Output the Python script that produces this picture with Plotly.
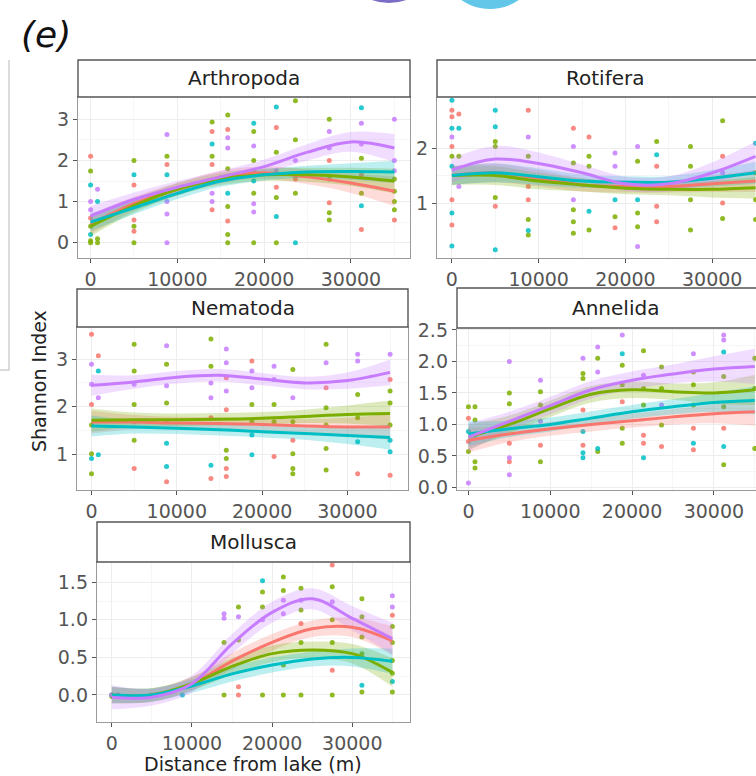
import plotly.graph_objects as go

W, H = 756, 776

# ---------------- data ----------------
SITES = [0, 800, 5000, 8800, 14000, 15800, 18800, 21400, 23600, 27500, 31200, 35000]
GRID_X = [0, 5000, 10000, 15000, 20000, 25000, 30000, 35000]
GROUP_COLORS = ["#F8766D", "#7CAE00", "#00BFC4", "#C77CFF"]
X_TICKS = [0, 10000, 20000, 30000]

# fitted (loess) curves per group: red, green, teal, purple
ARTH_FIT = [[0.45, 0.95, 1.30, 1.60, 1.70, 1.60, 1.45, 1.25],
            [0.40, 0.90, 1.30, 1.55, 1.65, 1.65, 1.60, 1.50],
            [0.50, 0.85, 1.20, 1.50, 1.65, 1.72, 1.73, 1.72],
            [0.65, 1.05, 1.35, 1.60, 1.85, 2.20, 2.45, 2.30]]
ARTH_SE = [[0.24, 0.17, 0.15, 0.15, 0.15, 0.18, 0.24, 0.36],
           [0.24, 0.17, 0.15, 0.15, 0.15, 0.17, 0.22, 0.30],
           [0.22, 0.16, 0.14, 0.14, 0.14, 0.15, 0.20, 0.27],
           [0.24, 0.17, 0.15, 0.15, 0.17, 0.20, 0.24, 0.34]]

ROT_FIT = [[1.50, 1.55, 1.45, 1.33, 1.30, 1.30, 1.35, 1.40],
           [1.50, 1.50, 1.40, 1.33, 1.27, 1.25, 1.25, 1.28],
           [1.50, 1.55, 1.48, 1.40, 1.38, 1.38, 1.45, 1.55],
           [1.60, 1.80, 1.72, 1.55, 1.35, 1.35, 1.55, 1.85]]
ROT_SE = [[0.17, 0.17, 0.15, 0.12, 0.11, 0.11, 0.15, 0.20],
          [0.17, 0.17, 0.15, 0.12, 0.11, 0.11, 0.15, 0.20],
          [0.17, 0.17, 0.15, 0.12, 0.11, 0.11, 0.15, 0.20],
          [0.22, 0.24, 0.20, 0.15, 0.13, 0.14, 0.19, 0.27]]

NEM_FIT = [[1.68, 1.68, 1.66, 1.65, 1.63, 1.60, 1.58, 1.58],
           [1.72, 1.73, 1.73, 1.74, 1.76, 1.80, 1.84, 1.86],
           [1.60, 1.58, 1.55, 1.52, 1.48, 1.44, 1.40, 1.36],
           [2.45, 2.52, 2.62, 2.66, 2.58, 2.50, 2.55, 2.72]]
NEM_SE = [[0.24, 0.15, 0.13, 0.13, 0.13, 0.14, 0.19, 0.27],
          [0.24, 0.15, 0.13, 0.13, 0.13, 0.14, 0.19, 0.27],
          [0.22, 0.14, 0.12, 0.12, 0.12, 0.13, 0.18, 0.26],
          [0.22, 0.14, 0.13, 0.13, 0.13, 0.13, 0.17, 0.27]]

ANN_FIT = [[0.75, 0.85, 0.93, 1.00, 1.06, 1.12, 1.17, 1.20],
           [0.80, 1.00, 1.25, 1.48, 1.55, 1.52, 1.50, 1.55],
           [0.85, 0.93, 1.00, 1.10, 1.20, 1.28, 1.35, 1.38],
           [0.80, 1.05, 1.30, 1.55, 1.70, 1.80, 1.88, 1.92]]
ANN_SE = [[0.20, 0.13, 0.11, 0.11, 0.11, 0.12, 0.15, 0.22],
          [0.20, 0.14, 0.13, 0.13, 0.13, 0.13, 0.17, 0.24],
          [0.20, 0.13, 0.11, 0.11, 0.11, 0.12, 0.15, 0.22],
          [0.22, 0.15, 0.14, 0.14, 0.14, 0.15, 0.20, 0.28]]

MOL_FIT = [[0.00, 0.00, 0.15, 0.45, 0.70, 0.88, 0.90, 0.72],
           [0.00, 0.00, 0.15, 0.38, 0.55, 0.60, 0.55, 0.30],
           [0.00, 0.00, 0.12, 0.28, 0.40, 0.48, 0.50, 0.45],
           [-0.03, -0.03, 0.15, 0.68, 1.10, 1.28, 1.02, 0.75]]
MOL_SE = [[0.11, 0.09, 0.09, 0.11, 0.11, 0.11, 0.13, 0.19],
          [0.11, 0.09, 0.09, 0.11, 0.11, 0.11, 0.13, 0.19],
          [0.11, 0.09, 0.09, 0.10, 0.10, 0.10, 0.12, 0.17],
          [0.16, 0.11, 0.11, 0.13, 0.14, 0.14, 0.16, 0.21]]

# observed points: (site index, Shannon index, group)
arthropoda_points = [
    (0, 2.1, 0), (0, 1.74, 1), (0, 1.4, 2), (0, 1.0, 3), (0, 0.8, 3), (0, 0.6, 0), (0, 0.4, 1), (0, 0.2, 2), (0, 0.05, 1), (0, 0.0, 1),
    (1, 1.3, 3), (1, 1.0, 2), (1, 0.1, 1), (1, 0.0, 1),
    (2, 2.0, 1), (2, 1.65, 2), (2, 1.4, 0), (2, 0.55, 0), (2, 0.4, 1), (2, 0.28, 0), (2, 0.0, 1),
    (3, 2.63, 3), (3, 2.1, 1), (3, 1.9, 0), (3, 1.65, 2), (3, 1.0, 3), (3, 0.7, 3), (3, 0.0, 3),
    (4, 2.93, 1), (4, 2.7, 0), (4, 2.4, 2), (4, 2.1, 1), (4, 1.9, 0), (4, 1.2, 3), (4, 1.0, 3), (4, 0.8, 0),
    (5, 3.1, 1), (5, 2.75, 0), (5, 2.55, 3), (5, 2.3, 3), (5, 1.8, 1), (5, 1.2, 2), (5, 0.88, 1), (5, 0.53, 0), (5, 0.2, 1), (5, 0.0, 1),
    (6, 2.9, 2), (6, 2.7, 1), (6, 2.35, 3), (6, 2.0, 1), (6, 1.75, 0), (6, 1.5, 2), (6, 1.2, 1), (6, 0.95, 3), (6, 0.75, 3), (6, 0.0, 1),
    (7, 3.3, 2), (7, 2.8, 0), (7, 2.2, 1), (7, 1.75, 3), (7, 1.35, 0), (7, 1.1, 1), (7, 0.64, 2), (7, 0.0, 1),
    (8, 3.45, 1), (8, 2.5, 1), (8, 2.0, 3), (8, 1.55, 0), (8, 1.2, 1), (8, 0.0, 2),
    (9, 3.0, 1), (9, 2.7, 3), (9, 2.3, 3), (9, 2.0, 0), (9, 1.55, 1), (9, 0.97, 0), (9, 0.73, 1), (9, 0.55, 1),
    (10, 3.28, 2), (10, 2.9, 3), (10, 2.4, 3), (10, 2.05, 1), (10, 1.65, 0), (10, 1.2, 1), (10, 0.9, 2), (10, 0.32, 0),
    (11, 3.0, 3), (11, 2.0, 3), (11, 1.75, 3), (11, 1.55, 1), (11, 1.25, 1), (11, 1.0, 1), (11, 0.8, 1), (11, 0.55, 0),
]
rotifera_points = [
    (0, 2.87, 2), (0, 2.69, 0), (0, 2.57, 0), (0, 2.36, 2), (0, 2.2, 3), (0, 2.03, 0), (0, 1.85, 1), (0, 1.67, 2), (0, 1.06, 0), (0, 0.82, 2), (0, 0.6, 0), (0, 0.22, 2),
    (1, 2.62, 0), (1, 2.36, 2), (1, 1.85, 1), (1, 1.3, 3),
    (2, 2.69, 2), (2, 2.39, 2), (2, 2.12, 1), (2, 2.03, 1), (2, 1.1, 1), (2, 0.94, 0), (2, 0.15, 2),
    (3, 2.69, 0), (3, 2.2, 3), (3, 1.85, 1), (3, 1.3, 0), (3, 1.06, 0), (3, 0.7, 1), (3, 0.5, 2), (3, 0.42, 1),
    (4, 2.36, 0), (4, 2.03, 3), (4, 1.73, 1), (4, 1.06, 3), (4, 0.88, 1), (4, 0.66, 1), (4, 0.45, 1),
    (5, 2.2, 0), (5, 1.85, 1), (5, 1.67, 1), (5, 0.85, 2), (5, 0.51, 1),
    (6, 1.91, 3), (6, 1.67, 3), (6, 1.06, 2), (6, 0.75, 1), (6, 0.55, 0),
    (7, 2.03, 3), (7, 1.76, 1), (7, 1.06, 2), (7, 0.82, 1), (7, 0.57, 1), (7, 0.21, 3),
    (8, 2.12, 1), (8, 1.88, 2), (8, 1.67, 0), (8, 0.94, 0), (8, 0.66, 0),
    (9, 2.03, 1), (9, 1.67, 1), (9, 1.06, 1), (9, 0.51, 1),
    (10, 2.5, 1), (10, 1.85, 0), (10, 1.55, 3), (10, 1.0, 0), (10, 0.72, 1),
    (11, 2.09, 2), (11, 1.55, 1), (11, 1.06, 1), (11, 0.7, 1),
]
nematoda_points = [
    (0, 3.52, 0), (0, 2.89, 3), (0, 2.47, 3), (0, 2.05, 0), (0, 1.62, 1), (0, 1.02, 1), (0, 0.92, 2), (0, 0.6, 1),
    (1, 3.07, 0), (1, 2.75, 2), (1, 2.19, 3), (1, 1.0, 2),
    (2, 3.31, 1), (2, 2.75, 1), (2, 2.47, 3), (2, 2.05, 1), (2, 1.69, 0), (2, 1.3, 1), (2, 0.71, 0),
    (3, 3.28, 3), (3, 2.89, 1), (3, 2.44, 3), (3, 2.08, 1), (3, 1.69, 0), (3, 1.24, 2), (3, 0.75, 2), (3, 0.43, 0),
    (4, 3.42, 1), (4, 2.85, 1), (4, 2.5, 3), (4, 2.19, 3), (4, 1.77, 0), (4, 0.78, 2), (4, 0.5, 0),
    (5, 3.21, 3), (5, 2.92, 3), (5, 2.61, 0), (5, 2.33, 3), (5, 1.94, 0), (5, 1.09, 1), (5, 0.92, 1), (5, 0.71, 0), (5, 0.54, 0),
    (6, 2.96, 0), (6, 2.75, 3), (6, 2.4, 3), (6, 2.05, 1), (6, 1.69, 1), (6, 1.41, 2), (6, 1.0, 2),
    (7, 2.85, 3), (7, 2.57, 3), (7, 2.05, 1), (7, 1.69, 1), (7, 0.96, 0),
    (8, 2.78, 1), (8, 2.19, 3), (8, 1.69, 1), (8, 1.3, 0), (8, 1.02, 1), (8, 0.71, 1), (8, 0.6, 1),
    (9, 3.31, 1), (9, 2.92, 3), (9, 2.4, 0), (9, 1.98, 1), (9, 1.62, 1), (9, 1.13, 1), (9, 0.68, 1),
    (10, 3.1, 3), (10, 2.96, 3), (10, 2.26, 1), (10, 1.77, 1), (10, 1.27, 2), (10, 0.6, 0),
    (11, 3.1, 3), (11, 2.57, 0), (11, 2.33, 1), (11, 2.08, 1), (11, 1.62, 1), (11, 1.3, 2), (11, 1.06, 2), (11, 0.57, 0),
]
annelida_points = [
    (0, 1.28, 1), (0, 1.1, 0), (0, 0.89, 2), (0, 0.73, 0), (0, 0.57, 1), (0, 0.07, 3),
    (1, 1.28, 1), (1, 1.07, 1), (1, 0.83, 2), (1, 0.41, 1), (1, 0.31, 1),
    (2, 2.0, 3), (2, 1.5, 1), (2, 1.33, 1), (2, 0.7, 0), (2, 0.47, 3), (2, 0.41, 0), (2, 0.2, 3),
    (3, 1.7, 3), (3, 1.52, 1), (3, 1.31, 1), (3, 1.05, 3), (3, 0.67, 0), (3, 0.41, 1),
    (4, 2.05, 3), (4, 1.81, 1), (4, 1.73, 1), (4, 1.23, 0), (4, 0.89, 2), (4, 0.67, 0), (4, 0.55, 2), (4, 0.47, 2),
    (5, 2.23, 3), (5, 2.05, 1), (5, 1.83, 3), (5, 0.62, 2), (5, 0.57, 1),
    (6, 2.42, 3), (6, 2.12, 2), (6, 1.94, 1), (6, 1.63, 1), (6, 1.36, 0), (6, 0.94, 1), (6, 0.7, 1),
    (7, 2.17, 1), (7, 1.78, 3), (7, 1.57, 1), (7, 1.31, 1), (7, 0.83, 0), (7, 0.7, 0), (7, 0.47, 2),
    (8, 1.91, 1), (8, 1.57, 1), (8, 1.31, 3), (8, 0.99, 1), (8, 0.65, 0),
    (9, 2.12, 3), (9, 1.83, 1), (9, 1.63, 1), (9, 1.31, 1), (9, 0.94, 0), (9, 0.7, 2), (9, 0.6, 0),
    (10, 2.42, 3), (10, 2.34, 3), (10, 2.15, 2), (10, 1.76, 1), (10, 1.28, 1), (10, 0.94, 0), (10, 0.65, 2), (10, 0.36, 1),
    (11, 2.05, 1), (11, 1.57, 1), (11, 0.62, 1),
]
mollusca_points = [
    (0, 0.0, 0), (0, 0.0, 1), (0, 0.0, 2), (0, 0.0, 3), (0, -0.02, 1),
    (1, 0.0, 1), (1, 0.0, 3), (2, 0.0, 1), (3, 0.0, 2),
    (4, 1.08, 3), (4, 1.02, 3), (4, 0.7, 1), (4, 0.0, 1),
    (5, 1.17, 1), (5, 1.04, 3), (5, 0.73, 1), (5, 0.11, 0), (5, 0.0, 0),
    (6, 1.52, 2), (6, 1.37, 1), (6, 1.17, 1), (6, 1.0, 3), (6, 0.0, 1),
    (7, 1.57, 1), (7, 1.39, 1), (7, 1.26, 3), (7, 1.08, 3), (7, 0.4, 1), (7, 0.0, 1),
    (8, 1.42, 1), (8, 1.26, 3), (8, 1.13, 1), (8, 0.95, 0), (8, 0.7, 1), (8, 0.0, 1),
    (9, 1.73, 0), (9, 1.44, 1), (9, 1.24, 3), (9, 1.0, 1), (9, 0.7, 1), (9, 0.33, 0), (9, 0.0, 1),
    (10, 1.28, 1), (10, 1.04, 1), (10, 0.77, 1), (10, 0.55, 1), (10, 0.13, 2), (10, 0.04, 1),
    (11, 1.32, 3), (11, 1.17, 3), (11, 1.06, 0), (11, 0.91, 1), (11, 0.7, 1), (11, 0.46, 1), (11, 0.29, 1), (11, 0.18, 2), (11, 0.04, 1),
]

PANEL_NAMES = ["Arthropoda", "Rotifera", "Nematoda", "Annelida", "Mollusca"]
Y_TICKS = [[0, 1, 2, 3], [1, 2], [1, 2, 3], [0, 0.5, 1, 1.5, 2, 2.5], [0, 0.5, 1, 1.5]]
Y_TITLE = "Shannon Index"
X_TITLE = "Distance from lake (m)"
PANEL_LABEL = "(e)"

# ---------------- layout geometry (pixels) ----------------
FONT = "DejaVu Sans"
layout_px = [
    dict(px=(78, 410), py=(97, 258), sy=(60, 97), sx1=410, xr=[-1450, 36800], yr=[-0.37, 3.54], cut=False, fmt="d"),
    dict(px=(437, 756), py=(97, 258), sy=(60, 97), sx1=772, xr=[-1720, 35050], yr=[0.0, 2.93], cut=True, fmt="d"),
    dict(px=(77, 408), py=(327, 490), sy=(289, 327), sx1=408, xr=[-1700, 37100], yr=[0.26, 3.67], cut=False, fmt="d"),
    dict(px=(457, 756), py=(328, 490), sy=(288, 328), sx1=773, xr=[-1400, 35150], yr=[-0.04, 2.53], cut=True, fmt=".1f"),
    dict(px=(97, 410), py=(562, 722), sy=(522, 562), sx1=410, xr=[-1850, 37200], yr=[-0.36, 1.77], cut=False, fmt=".1f"),
]
panel_points = [arthropoda_points, rotifera_points, nematoda_points, annelida_points, mollusca_points]
panel_fit = [ARTH_FIT, ROT_FIT, NEM_FIT, ANN_FIT, MOL_FIT]
panel_se = [ARTH_SE, ROT_SE, NEM_SE, ANN_SE, MOL_SE]


def fx(p):
    return p / W


def fy(p):
    return 1 - p / H


def rgba(hexc, a):
    h = hexc.lstrip("#")
    return "rgba(%d,%d,%d,%.3f)" % (int(h[0:2], 16), int(h[2:4], 16), int(h[4:6], 16), a)


fig = go.Figure()
layout = dict(
    width=W, height=H, margin=dict(l=0, r=0, t=0, b=0, autoexpand=False),
    paper_bgcolor="white", plot_bgcolor="white", showlegend=False,
    font=dict(family=FONT, size=19, color="#4D4D4D"),
)
shapes = []
annotations = []

for i, geo in enumerate(layout_px):
    n = i + 1
    xa = "x" if n == 1 else "x%d" % n
    ya = "y" if n == 1 else "y%d" % n
    xkey = "xaxis" if n == 1 else "xaxis%d" % n
    ykey = "yaxis" if n == 1 else "yaxis%d" % n

    pts = panel_points[i]
    for g in range(4):
        xs = [SITES[s] for s, v, gg in pts if gg == g]
        ys = [v for s, v, gg in pts if gg == g]
        fig.add_trace(go.Scatter(x=xs, y=ys, mode="markers", xaxis=xa, yaxis=ya,
                                 marker=dict(size=5, color=GROUP_COLORS[g], opacity=0.85),
                                 hoverinfo="skip"))
    for g in range(4):
        fit = panel_fit[i][g]
        se = panel_se[i][g]
        up = [f + s for f, s in zip(fit, se)]
        lo = [f - s for f, s in zip(fit, se)]
        fig.add_trace(go.Scatter(x=GRID_X, y=up, mode="lines", xaxis=xa, yaxis=ya,
                                 line=dict(width=0, shape="spline", color=rgba(GROUP_COLORS[g], 0)),
                                 hoverinfo="skip"))
        fig.add_trace(go.Scatter(x=GRID_X, y=lo, mode="lines", xaxis=xa, yaxis=ya, fill="tonexty",
                                 fillcolor=rgba(GROUP_COLORS[g], 0.26),
                                 line=dict(width=0, shape="spline", color=rgba(GROUP_COLORS[g], 0)),
                                 hoverinfo="skip"))
    for g in range(4):
        fig.add_trace(go.Scatter(x=GRID_X, y=panel_fit[i][g], mode="lines", xaxis=xa, yaxis=ya,
                                 line=dict(width=3, shape="spline", color=GROUP_COLORS[g]),
                                 hoverinfo="skip"))

    yt = Y_TICKS[i]
    ytext = [("%d" % v) if geo["fmt"] == "d" else ("%.1f" % v) for v in yt]
    ymin_vals = [(a + b) / 2 for a, b in zip(yt[:-1], yt[1:])]
    common = dict(ticks="outside", ticklen=4, tickwidth=1, tickcolor="#555",
                  showline=True, linecolor="#9A9A9A", linewidth=1.2,
                  showgrid=True, gridcolor="#EDEDED", gridwidth=1, zeroline=False,
                  tickfont=dict(family=FONT, size=19, color="#555"))
    layout[xkey] = dict(domain=[fx(geo["px"][0]), fx(geo["px"][1])], range=geo["xr"], anchor=ya,
                        tickvals=X_TICKS, ticktext=[str(v) for v in X_TICKS],
                        mirror=not geo["cut"],
                        minor=dict(tickvals=[5000, 15000, 25000, 35000], showgrid=True,
                                   gridcolor="#F6F6F6", ticks=""),
                        **common)
    layout[ykey] = dict(domain=[fy(geo["py"][1]), fy(geo["py"][0])], range=geo["yr"], anchor=xa,
                        tickvals=yt, ticktext=ytext, mirror=not geo["cut"],
                        minor=dict(tickvals=ymin_vals, showgrid=True, gridcolor="#F6F6F6", ticks=""),
                        **common)

    shapes.append(dict(type="rect", xref="paper", yref="paper",
                       x0=fx(geo["px"][0]), x1=fx(geo["sx1"]),
                       y0=fy(geo["sy"][1]), y1=fy(geo["sy"][0]),
                       fillcolor="white", line=dict(color="#555", width=1.4), layer="above"))
    annotations.append(dict(text=PANEL_NAMES[i], xref="paper", yref="paper",
                            x=fx((geo["px"][0] + geo["sx1"]) / 2), y=fy((geo["sy"][0] + geo["sy"][1]) / 2),
                            xanchor="center", yanchor="middle", showarrow=False,
                            font=dict(family=FONT, size=20, color="#222")))

annotations.append(dict(text=Y_TITLE, xref="paper", yref="paper", x=fx(39), y=fy(381),
                        textangle=-90, xanchor="center", yanchor="middle", showarrow=False,
                        font=dict(family=FONT, size=19, color="#222")))
annotations.append(dict(text=X_TITLE, xref="paper", yref="paper", x=fx(253), y=fy(764),
                        xanchor="center", yanchor="middle", showarrow=False,
                        font=dict(family=FONT, size=19, color="#222")))
annotations.append(dict(text=PANEL_LABEL, xref="paper", yref="paper", x=fx(46), y=fy(35),
                        xanchor="center", yanchor="middle", showarrow=False,
                        font=dict(family=FONT, size=36, color="#111", style="italic")))

# cut-off fragments of neighbouring figure elements
shapes.append(dict(type="circle", xref="paper", yref="paper",
                   x0=fx(340), x1=fx(438), y0=fy(3), y1=fy(-90),
                   fillcolor="#7B6CC6", line=dict(width=0), layer="below"))
shapes.append(dict(type="circle", xref="paper", yref="paper",
                   x0=fx(440), x1=fx(540), y0=fy(9), y1=fy(-90),
                   fillcolor="#63C7EA", line=dict(width=0), layer="below"))
shapes.append(dict(type="path", xref="paper", yref="paper",
                   path="M %f %f L %f %f L %f %f" % (fx(0), fy(370), fx(9), fy(370), fx(9), fy(60)),
                   line=dict(color="#D0D0D0", width=1.5)))

layout["shapes"] = shapes
layout["annotations"] = annotations
fig.update_layout(**layout)
fig.write_html("out.html",
               config={"displayModeBar": False, "staticPlot": True},
               post_script="document.body.style.margin='0';document.body.style.padding='0';"
                           "document.body.style.overflow='hidden';"
                           "document.documentElement.style.overflow='hidden';")
